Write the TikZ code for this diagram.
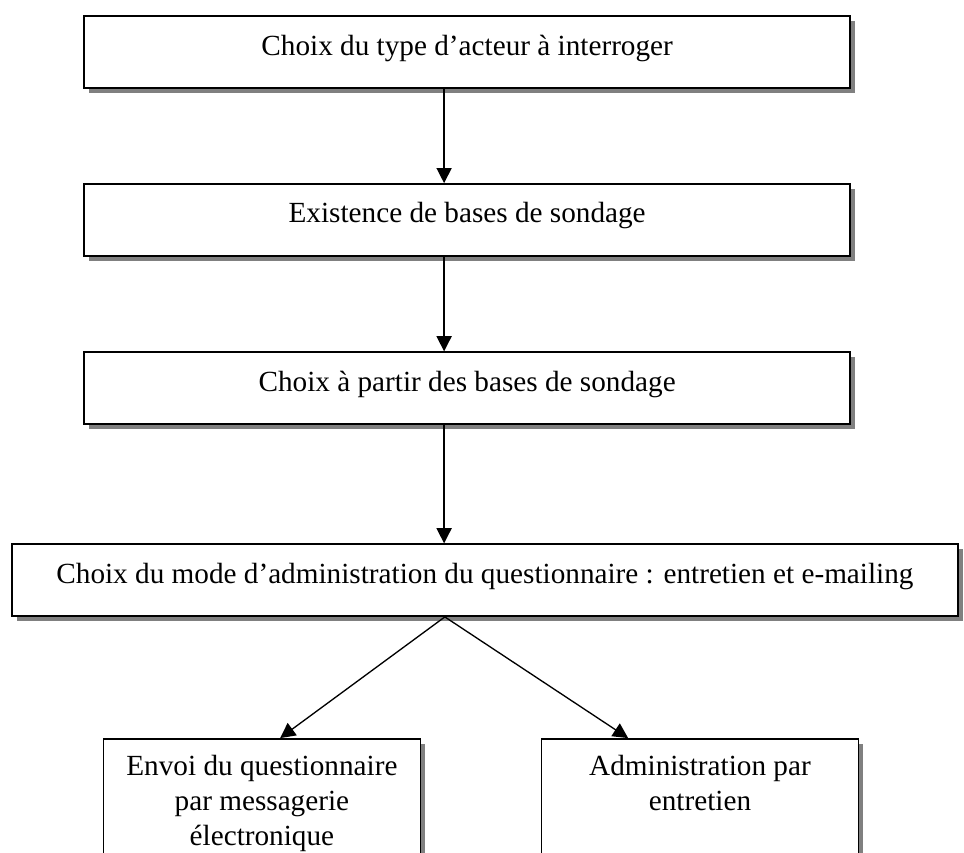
\documentclass[tikz,border=0pt]{standalone}
\usepackage{fontspec}
\setmainfont{Liberation Serif}
\usepackage{tikz}
\usetikzlibrary{arrows.meta,positioning,shadows}
\definecolor{boxBorder}{HTML}{000000}
\definecolor{shadowGray}{HTML}{808080}

\begin{document}
\begin{tikzpicture}[
        font=\fontsize{22}{26.5}\selectfont,
        box/.style={
            draw=boxBorder,
            line width=1.2pt,
            fill=white,
            minimum width=20.27cm,
            minimum height=1.905cm,
            text height=0.53cm,
            text depth=0.37cm,
            align=center,
            drop shadow={shadow xshift=0.13cm, shadow yshift=-0.13cm,
                fill=shadowGray, opacity=1}
        },
        widebox/.style={
            box,
            minimum width=25.03cm
        },
        lowbox/.style={
            box,
            minimum width=8.39cm,
            minimum height=0pt,
            anchor=north,
            inner ysep=0.42cm,
            text height={},
            text depth=3cm
        },
        arrow/.style={
            -{Triangle[length=4mm,width=4mm]},
            line width=1pt,
            draw=boxBorder
        }
    ]

    \useasboundingbox (0,0) rectangle (25.506,22.569);
    \clip (0,0) rectangle (25.506,22.569);

    \node[box] (acteur) at (12.36,21.19)
        {Choix du type d’acteur à interroger};

    \node[box] (existence) at (12.36,16.75)
        {Existence de bases de sondage};

    \node[box] (choixbases) at (12.36,12.30)
        {Choix à partir des bases de sondage};

    \node[widebox] (mode) at (12.83,7.22)
        {Choix du mode d’administration du questionnaire : entretien et e-mailing};

    \node[lowbox] (envoi) at (6.93,3.04)
        {Envoi du questionnaire\\par messagerie\\électronique};

    \node[lowbox] (entretien) at (18.52,3.04)
        {Administration par\\entretien};

    \draw[arrow] ([xshift=-0.61cm]acteur.south)
        -- ([xshift=-0.61cm]acteur.south |- existence.north);
    \draw[arrow] ([xshift=-0.61cm]existence.south)
        -- ([xshift=-0.61cm]existence.south |- choixbases.north);
    \draw[arrow] ([xshift=-0.61cm]choixbases.south)
        -- ([xshift=-0.61cm]choixbases.south |- mode.north);

    \coordinate (fourche) at ([xshift=-1.06cm]mode.south);
    \draw[arrow] (fourche) -- ([xshift=0.48cm]envoi.north);
    \draw[arrow] (fourche) -- ([xshift=-1.9cm]entretien.north);

\end{tikzpicture}
\end{document}
